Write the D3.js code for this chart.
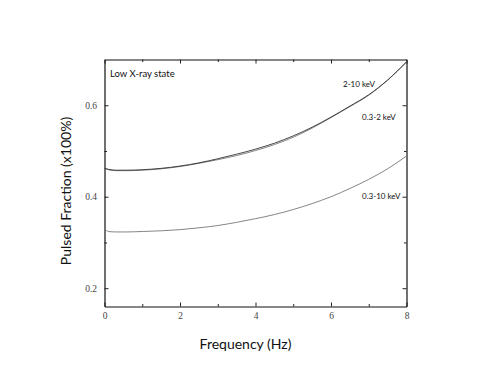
<!DOCTYPE html>
<html>
<head>
<meta charset="utf-8">
<script src="https://cdn.jsdelivr.net/npm/d3@7"></script>
<style>
  html, body { margin: 0; padding: 0; background: #fff; }
  svg { display: block; }
</style>
</head>
<body>
<div id="chart"></div>
<script>
// frequency grid (Hz)
const freq = [0, 0.1, 0.3, 0.6, 1, 1.5, 2, 2.5, 3, 3.5, 4, 4.5, 5, 5.5, 6, 6.5, 7, 7.5, 8];

// pulsed fraction per band
const pf_2_10 = [0.462, 0.460, 0.458, 0.458, 0.459, 0.462, 0.467, 0.474, 0.483, 0.493, 0.504, 0.517, 0.533, 0.552, 0.574, 0.598, 0.623, 0.655, 0.695];
const pf_03_2 = [0.463, 0.459, 0.457, 0.457, 0.458, 0.461, 0.466, 0.473, 0.481, 0.490, 0.501, 0.514, 0.530, 0.550, 0.573, 0.597, 0.622, 0.655, 0.694];
const pf_03_10 = [0.331, 0.324, 0.323, 0.323, 0.324, 0.3255, 0.328, 0.332, 0.337, 0.344, 0.352, 0.361, 0.372, 0.385, 0.400, 0.418, 0.438, 0.461, 0.489];

const xMajor = [0, 2, 4, 6, 8];
const xMinor = [1, 3, 5, 7];
const yMajor = [0.2, 0.4, 0.6];
const yMinor = [0.3, 0.5];

const bandLabels = ['2-10 keV', '0.3-2 keV', '0.3-10 keV'];

const width = 491;
const height = 382;

const svg = d3.select('#chart').append('svg')
    .attr('width', width)
    .attr('height', height);

const x = d3.scaleLinear().domain([0, 8]).range([104.5, 406.5]);
const y = d3.scaleLinear().domain([0.16, 0.70]).range([306.5, 59.5]);

const tickFont = '"Liberation Serif", "DejaVu Serif", serif';
const sansFont = 'Lato, "Open Sans", sans-serif';

function styleAxis(g) {
    g.attr('font-family', tickFont).attr('font-size', 9.5);
    g.select('.domain').attr('stroke', '#111').attr('stroke-width', 1.2);
    g.selectAll('.tick line').attr('stroke', '#222').attr('stroke-width', 1);
    g.selectAll('.tick text').attr('fill', '#444');
}

// minor ticks (no labels, no domain)
function minor(axis, transform) {
    svg.append('g')
        .attr('transform', transform)
        .call(axis.tickFormat('').tickSizeOuter(0))
        .call(g => g.select('.domain').remove())
        .call(g => g.selectAll('.tick line').attr('stroke', '#222'));
}
minor(d3.axisBottom(x).tickValues(xMinor).tickSizeInner(-2.5), `translate(0,${y.range()[0]})`);
minor(d3.axisTop(x).tickValues(xMinor).tickSizeInner(-2.5), `translate(0,${y.range()[1]})`);
minor(d3.axisLeft(y).tickValues(yMinor).tickSizeInner(-2.5), `translate(${x.range()[0]},0)`);
minor(d3.axisRight(y).tickValues(yMinor).tickSizeInner(-2.5), `translate(${x.range()[1]},0)`);

// major axes, ticks pointing inward
svg.append('g')
    .attr('transform', `translate(0,${y.range()[0]})`)
    .call(d3.axisBottom(x).tickValues(xMajor).tickFormat(d3.format('d'))
        .tickSizeInner(-4).tickSizeOuter(0).tickPadding(6))
    .call(styleAxis);

svg.append('g')
    .attr('transform', `translate(0,${y.range()[1]})`)
    .call(d3.axisTop(x).tickValues(xMajor).tickFormat('')
        .tickSizeInner(-4).tickSizeOuter(0))
    .call(styleAxis);

svg.append('g')
    .attr('transform', `translate(${x.range()[0]},0)`)
    .call(d3.axisLeft(y).tickValues(yMajor).tickFormat(d3.format('.1f'))
        .tickSizeInner(-4).tickSizeOuter(0).tickPadding(7.5))
    .call(styleAxis);

svg.append('g')
    .attr('transform', `translate(${x.range()[1]},0)`)
    .call(d3.axisRight(y).tickValues(yMajor).tickFormat('')
        .tickSizeInner(-4).tickSizeOuter(0))
    .call(styleAxis);

// curves
const line = d3.line()
    .x((d, i) => x(freq[i]))
    .y(d => y(d))
    .curve(d3.curveMonotoneX);

const series = [
    { values: pf_03_10, color: '#777', w: 0.9 },
    { values: pf_03_2, color: '#666', w: 0.8 },
    { values: pf_2_10, color: '#333', w: 0.9 }
];

svg.append('g')
    .selectAll('path')
    .data(series)
    .join('path')
    .attr('d', d => line(d.values))
    .attr('fill', 'none')
    .attr('stroke', d => d.color)
    .attr('stroke-width', d => d.w);

// annotations
svg.append('text')
    .attr('x', 110)
    .attr('y', 77)
    .style('font-family', sansFont)
    .style('font-size', '9.5px')
    .attr('fill', '#111')
    .text('Low X-ray state');

const labelPos = [[343, 86.5], [362, 119.5], [362, 199]];
svg.append('g')
    .selectAll('text')
    .data(bandLabels)
    .join('text')
    .attr('x', (d, i) => labelPos[i][0])
    .attr('y', (d, i) => labelPos[i][1])
    .style('font-family', sansFont)
    .style('font-size', '8px')
    .attr('fill', '#111')
    .text(d => d);

// axis titles
svg.append('text')
    .attr('x', 245.5)
    .attr('y', 349)
    .attr('text-anchor', 'middle')
    .style('font-family', sansFont)
    .style('font-size', '14px')
    .attr('fill', '#111')
    .text('Frequency (Hz)');

svg.append('text')
    .attr('transform', 'translate(70.5,191) rotate(-90)')
    .attr('text-anchor', 'middle')
    .style('font-family', sansFont)
    .style('font-size', '14px')
    .attr('fill', '#111')
    .text('Pulsed Fraction (x100%)');
</script>
</body>
</html>
